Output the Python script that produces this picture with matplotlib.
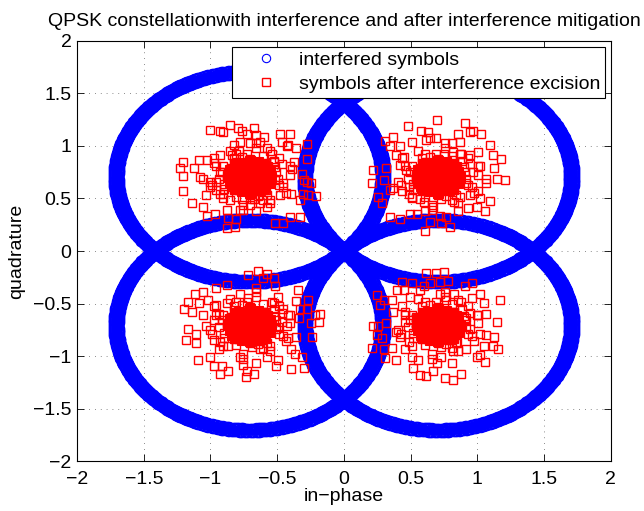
import numpy as np
import matplotlib
matplotlib.use('Agg')
import matplotlib.pyplot as plt

plt.rcParams['font.family'] = ['Liberation Sans', 'DejaVu Sans']

# QPSK constellation points (I, Q)
const_i = [-0.707, 0.707, -0.707, 0.707]
const_q = [0.707, 0.707, -0.707, -0.707]

# interfering tone: amplitude spread and phase samples (deg)
intf_amp = [0.975, 1.0, 1.025]
intf_phase_deg = np.arange(0, 360, 0.5)

# dense core of each cluster after excision (offsets from symbol)
core_di = [0, 0.05, -0.05, 0.1, -0.1, 0, 0, 0, 0, 0.05, -0.05, 0.05, -0.05, 0.09, -0.09, 0.09, -0.09,
           0.04, -0.04, 0.04, -0.04, 0.13, -0.13, 0.12, -0.12, 0.07, -0.07, 0.02, -0.02, 0.11, -0.11,
           0.15, -0.15, 0.15, -0.15, 0.06, -0.06, 0.1, -0.1, 0.13, -0.13, -0.08, 0.08,
           0.16, -0.16, 0.0, 0.0, 0.11, -0.11, 0.11, -0.11]
core_dq = [0, 0, 0, 0, 0, 0.05, -0.05, 0.1, -0.1, 0.05, 0.05, -0.05, -0.05, 0.06, 0.06, -0.06, -0.06,
           0.11, 0.11, -0.11, -0.11, 0.02, -0.02, -0.04, 0.04, 0.1, -0.1, 0.13, -0.12, -0.08, 0.08,
           0.05, -0.05, -0.06, 0.06, 0.14, -0.14, 0.12, -0.12, 0.09, -0.09, 0.13, -0.13,
           0.0, 0.0, 0.15, -0.15, 0.11, -0.11, -0.11, 0.11]

# medium-spread points around the core
mid_di = [0.2, 0.22, 0.18, 0.1, -0.02, -0.12, -0.2, -0.23, -0.19, -0.1, 0.02, 0.13, 0.24, 0.15, -0.15,
          -0.27, 0.27, -0.05, 0.05, -0.28, 0.3, 0.17, -0.2, 0.08, -0.14, 0.14, -0.08,
          0.16, -0.17, 0.0, 0.0, 0.12, -0.12, 0.12, -0.12, 0.21, -0.21, 0.06, -0.06, 0.19, -0.19,
          0.1, -0.1, 0.25, -0.25, 0.22, -0.22, 0.3, -0.3, 0.05, -0.05]
mid_dq = [0.05, -0.08, 0.15, 0.2, 0.22, 0.18, 0.1, -0.02, -0.12, -0.19, -0.21, -0.17, 0.12, -0.25, 0.25,
          0.18, -0.15, -0.27, 0.27, -0.08, 0.02, 0.22, -0.2, -0.14, 0.08, 0.09, -0.13,
          0.0, 0.02, 0.17, -0.17, 0.13, 0.13, -0.13, -0.13, -0.02, 0.05, -0.18, 0.19, 0.09, -0.07,
          -0.22, 0.22, -0.1, 0.1, 0.18, -0.16, 0.1, -0.05, 0.32, -0.32]

# outlying squares, one list per cluster (top-left, top-right, bottom-left, bottom-right)
out_tl = [(-0.30, 0.45), (-0.22, 0.44), (-0.15, 0.49), (-0.20, 0.43), (-0.09, 0.46), (-0.06, 0.44),
          (-0.02, 0.41), (0.03, 0.46), (0.05, 0.40), (0.11, 0.38), (0.23, 0.41), (0.30, 0.41),
          (0.24, 0.33), (0.28, 0.29), (0.35, 0.27), (0.29, 0.30), (0.43, 0.31), (0.43, 0.17),
          (0.33, 0.14), (0.32, 0.07), (0.39, 0.03), (0.41, -0.03), (0.43, -0.05), (0.46, -0.06),
          (0.50, -0.18), (0.44, -0.17), (0.40, -0.16), (0.38, -0.22), (0.38, -0.38), (0.30, -0.38),
          (0.25, -0.44), (0.19, -0.44), (0.05, -0.33), (0.00, -0.27), (-0.07, -0.32), (-0.10, -0.40),
          (-0.16, -0.39), (-0.17, -0.49), (-0.11, -0.48), (-0.26, -0.35), (-0.32, -0.37), (-0.35, -0.29),
          (-0.43, -0.25), (-0.33, -0.17), (-0.50, -0.14), (-0.50, 0.01), (-0.52, 0.08), (-0.50, 0.14),
          (-0.42, 0.08), (-0.38, 0.16), (-0.32, 0.16), (-0.27, 0.13), (-0.22, 0.21), (-0.13, 0.21),
          (-0.08, 0.25), (-0.12, 0.30), (-0.07, 0.33), (0.00, 0.32), (0.08, 0.33), (0.13, 0.27),
          (0.18, 0.14), (0.15, 0.25), (0.19, -0.03), (0.25, -0.06), (0.31, -0.16), (0.23, -0.17),
          (0.15, -0.22), (0.08, -0.25), (0.03, -0.21), (-0.06, -0.21), (-0.15, -0.22), (-0.20, -0.16),
          (-0.25, -0.13), (-0.30, -0.10), (-0.35, -0.02), (-0.37, 0.00), (-0.22, 0.05), (-0.25, -0.05),
          (-0.17, -0.32), (0.13, -0.29)]
out_tr = [(-0.01, 0.54), (0.20, 0.51), (0.26, 0.44), (0.32, 0.41), (0.24, 0.43), (0.15, 0.41),
          (0.16, 0.33), (0.10, 0.32), (-0.13, 0.44), (-0.08, 0.43), (-0.06, 0.37), (-0.02, 0.37),
          (-0.23, 0.48), (-0.34, 0.38), (-0.40, 0.34), (-0.36, 0.29), (-0.29, 0.29), (-0.20, 0.33),
          (-0.09, 0.35), (0.04, 0.22), (0.11, 0.24), (0.16, 0.22), (0.24, 0.21), (0.30, 0.24),
          (0.39, 0.30), (0.41, 0.21), (0.47, 0.17), (0.42, 0.08), (0.31, 0.10), (0.26, 0.05),
          (0.36, -0.02), (0.44, -0.02), (0.50, -0.03), (0.36, -0.06), (0.30, -0.14), (0.24, -0.17),
          (0.31, -0.20), (0.39, -0.23), (0.35, -0.33), (0.22, -0.30), (0.15, -0.33), (0.06, -0.38),
          (0.01, -0.37), (-0.06, -0.43), (-0.04, -0.29), (-0.10, -0.33), (-0.16, -0.35), (-0.21, -0.35),
          (-0.29, -0.40), (-0.36, -0.38), (-0.10, -0.52), (0.09, -0.48), (0.02, -0.44), (-0.11, -0.24),
          (-0.20, -0.19), (-0.27, -0.14), (-0.34, -0.11), (-0.41, -0.03), (-0.50, -0.06), (-0.45, -0.19),
          (-0.42, -0.25), (-0.49, 0.06), (-0.39, 0.08), (-0.29, 0.11), (-0.24, 0.06), (-0.26, 0.19),
          (-0.32, 0.21), (-0.36, -0.13), (-0.22, -0.10), (-0.14, -0.21), (0.21, -0.06), (0.16, -0.19),
          (0.29, -0.29), (0.12, -0.24)]
out_bl = [(-0.01, 0.48), (0.06, 0.52), (0.13, 0.49), (0.18, 0.45), (0.10, 0.45), (-0.17, 0.38),
          (-0.25, 0.35), (-0.35, 0.32), (-0.41, 0.30), (-0.46, 0.22), (-0.49, 0.15), (-0.43, 0.13),
          (-0.38, 0.21), (-0.31, 0.24), (-0.25, 0.19), (-0.17, 0.21), (-0.07, 0.30), (-0.01, 0.26),
          (0.05, 0.35), (0.19, 0.37), (0.21, 0.27), (0.18, 0.21), (0.36, 0.34), (0.35, 0.23),
          (0.44, 0.24), (0.43, 0.15), (0.38, 0.15), (0.49, 0.10), (0.53, 0.11), (0.52, 0.03),
          (0.46, 0.02), (0.37, 0.07), (0.29, 0.10), (0.25, 0.15), (0.28, -0.01), (0.35, -0.11),
          (0.47, -0.11), (0.29, -0.12), (0.31, -0.23), (0.39, -0.30), (0.34, -0.27), (0.31, -0.42),
          (0.20, -0.39), (0.21, -0.33), (0.13, -0.30), (0.08, -0.23), (0.15, -0.20), (0.05, -0.36),
          (0.03, -0.46), (-0.03, -0.49), (-0.02, -0.44), (-0.16, -0.44), (-0.22, -0.46), (-0.21, -0.39),
          (-0.27, -0.39), (-0.30, -0.30), (-0.39, -0.33), (-0.23, -0.23), (-0.16, -0.20), (-0.07, -0.30),
          (-0.27, -0.14), (-0.40, -0.17), (-0.48, -0.14), (-0.46, -0.04), (-0.40, -0.08), (-0.33, -0.01),
          (-0.27, 0.05), (-0.23, 0.11), (-0.35, 0.10), (0.24, 0.03), (0.20, -0.04), (0.41, -0.41),
          (-0.05, -0.38)]
out_br = [(-0.09, 0.50), (-0.02, 0.50), (0.04, 0.51), (0.07, 0.42), (0.01, 0.41), (-0.06, 0.40),
          (-0.11, 0.37), (-0.20, 0.40), (-0.27, 0.41), (-0.31, 0.34), (-0.14, 0.34), (-0.21, 0.27),
          (-0.35, 0.24), (-0.44, 0.19), (-0.46, 0.29), (-0.41, 0.24), (-0.34, 0.13), (-0.25, 0.13),
          (-0.17, 0.08), (-0.25, 0.03), (-0.32, -0.06), (-0.39, 0.02), (-0.45, -0.01), (-0.49, -0.01),
          (-0.46, -0.09), (-0.42, -0.12), (-0.50, -0.22), (-0.41, -0.23), (-0.35, -0.22), (-0.29, -0.11),
          (-0.32, -0.33), (-0.40, -0.31), (-0.25, -0.23), (-0.20, -0.30), (-0.15, -0.33), (-0.19, -0.41),
          (-0.14, -0.47), (-0.09, -0.48), (-0.04, -0.44), (0.05, -0.50), (0.11, -0.52), (0.17, -0.46),
          (0.10, -0.36), (0.02, -0.30), (0.11, -0.25), (0.21, -0.23), (0.29, -0.30), (0.35, -0.35),
          (0.31, -0.28), (0.34, -0.20), (0.41, -0.20), (0.45, -0.23), (0.36, -0.09), (0.42, -0.11),
          (0.31, -0.08), (0.24, -0.04), (0.21, 0.07), (0.29, 0.10), (0.36, 0.11), (0.44, 0.03),
          (0.46, 0.24), (0.34, 0.21), (0.31, 0.30), (0.25, 0.26), (0.20, 0.37), (0.12, 0.30),
          (0.15, 0.24), (0.06, 0.24), (0.25, 0.40), (0.01, 0.30), (0.14, -0.16), (-0.01, -0.36),
          (-0.26, 0.34)]
outliers = [out_tl, out_tr, out_bl, out_br]

fig = plt.figure(figsize=(6.44, 5.11), dpi=100)
ax = fig.add_axes([0.1196, 0.0978, 0.829, 0.822])

# interfered symbols: symbol + tone
ph = np.deg2rad(intf_phase_deg)
ring_i, ring_q = [], []
for ci, cq in zip(const_i, const_q):
    for a in intf_amp:
        ring_i.append(ci + a * np.cos(ph))
        ring_q.append(cq + a * np.sin(ph))
ring_i = np.concatenate(ring_i)
ring_q = np.concatenate(ring_q)
ax.plot(ring_i, ring_q, 'o', color='b', mfc='none', ms=6, mew=0.8, label='interfered symbols')

# symbols after excision
clean_i, clean_q = [], []
core_i, core_q = [], []
for ci, cq, outs in zip(const_i, const_q, outliers):
    for d, e in outs:
        clean_i.append(ci + d)
        clean_q.append(cq + e)
    for d, e in zip(mid_di, mid_dq):
        clean_i.append(ci + d)
        clean_q.append(cq + e)
    for d, e in zip(core_di, core_dq):
        core_i.append(ci + d)
        core_q.append(cq + e)
ax.plot(clean_i, clean_q, 's', color='r', mfc='none', ms=6, mew=1.0,
        label='symbols after interference excision')
# core is so dense that the squares merge into a solid blob
ax.plot(core_i, core_q, 's', color='r', mfc='r', ms=7, mew=0.8)

ax.set_xlim(-2, 2)
ax.set_ylim(-2, 2)
ax.set_xticks(np.arange(-2, 2.01, 0.5))
ax.set_yticks(np.arange(-2, 2.01, 0.5))
ax.set_xticklabels(['\u22122', '\u22121.5', '\u22121', '\u22120.5', '0', '0.5', '1', '1.5', '2'])
ax.set_yticklabels(['\u22122', '\u22121.5', '\u22121', '\u22120.5', '0', '0.5', '1', '1.5', '2'])
ax.tick_params(direction='in', top=True, right=True, length=5, width=0.6, labelsize=14)
ax.tick_params(axis='x', pad=7)
ax.tick_params(axis='y', pad=4)
ax.grid(True, color='0.4', linestyle=(0, (1, 6)), linewidth=0.6)
for s in ax.spines.values():
    s.set_linewidth(0.8)

ax.set_title('QPSK constellationwith interference and after interference mitigation', fontsize=14, pad=11)
ax.set_xlabel('in\u2212phase', fontsize=14, labelpad=0)
ax.set_ylabel('quadrature', fontsize=14, labelpad=6)

leg = ax.legend(loc='upper right', fontsize=14, fancybox=False, framealpha=1, edgecolor='k',
                borderaxespad=0.3, handletextpad=0.2, handlelength=3.0, labelspacing=0.3, borderpad=0.25)
leg.get_frame().set_linewidth(0.8)

fig.savefig('out.png', dpi=100)
